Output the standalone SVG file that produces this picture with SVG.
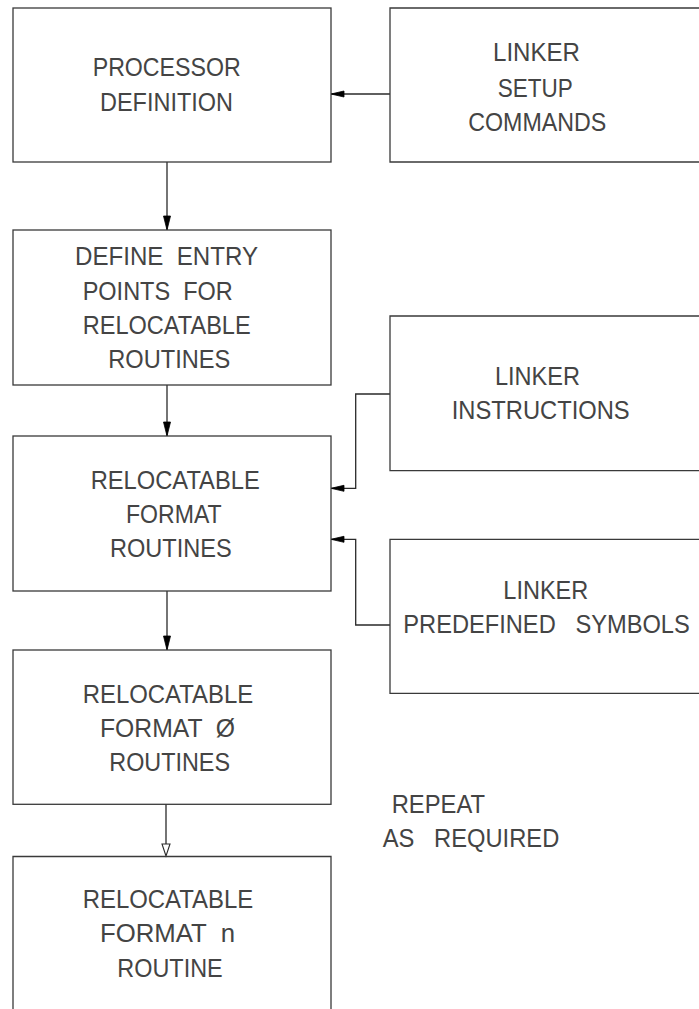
<svg xmlns="http://www.w3.org/2000/svg" width="699" height="1009" viewBox="0 0 699 1009">
<defs>
<style>
.box{fill:none;stroke:#3a3a3a;stroke-width:1.3}
.ln{fill:none;stroke:#2a2a2a;stroke-width:1.3}
.ah{fill:#000;stroke:#000;stroke-width:0.8}
.ho{fill:#fff;stroke:#2a2a2a;stroke-width:1.1}
text{font-family:"Liberation Sans",Arial,sans-serif;font-size:25px;fill:#444;white-space:pre}
</style>
</defs>
<rect width="699" height="1009" fill="#fff"/>
<g id="connectors">
<path class="ln" d="M390,94 H331"/>
<path class="ah" d="M331,94 L344,91 L344,97 Z"/>
<path class="ln" d="M167,162 V230"/>
<path class="ah" d="M167,230 L163.5,216 L170.5,216 Z"/>
<path class="ln" d="M167,385 V436"/>
<path class="ah" d="M167,436 L163.5,422 L170.5,422 Z"/>
<path class="ln" d="M390,394 H355.7 V488.3 H331"/>
<path class="ah" d="M331,488.3 L344,485.3 L344,491.3 Z"/>
<path class="ln" d="M390,625 H355.7 V539.3 H331"/>
<path class="ah" d="M331,539.3 L344,536.3 L344,542.3 Z"/>
<path class="ln" d="M167,591 V650"/>
<path class="ah" d="M167,650 L163.5,636 L170.5,636 Z"/>
<path class="ln" d="M166,804 V844"/>
<path class="ho" d="M166,856 L162,844 L170,844 Z"/>
</g>
<g id="processor-definition">
<rect class="box" x="13" y="8" width="318" height="154"/>
<text x="92.7" y="76" textLength="148" lengthAdjust="spacingAndGlyphs">PROCESSOR</text>
<text x="100" y="111" textLength="133" lengthAdjust="spacingAndGlyphs">DEFINITION</text>
</g>
<g id="linker-setup-commands">
<path class="box" d="M710,8 H390 V162 H710"/>
<text x="493" y="61" textLength="87" lengthAdjust="spacingAndGlyphs">LINKER</text>
<text x="497.7" y="96.5" textLength="75" lengthAdjust="spacingAndGlyphs">SETUP</text>
<text x="468.3" y="131" textLength="138" lengthAdjust="spacingAndGlyphs">COMMANDS</text>
</g>
<g id="define-entry-points">
<rect class="box" x="13" y="230" width="318" height="155"/>
<text x="75" y="265" textLength="183" lengthAdjust="spacingAndGlyphs">DEFINE  ENTRY</text>
<text x="82.7" y="300" textLength="150" lengthAdjust="spacingAndGlyphs">POINTS  FOR</text>
<text x="82.7" y="334" textLength="168" lengthAdjust="spacingAndGlyphs">RELOCATABLE</text>
<text x="108.3" y="367.5" textLength="122" lengthAdjust="spacingAndGlyphs">ROUTINES</text>
</g>
<g id="linker-instructions">
<path class="box" d="M710,316 H390 V470.7 H710"/>
<text x="495" y="385" textLength="85" lengthAdjust="spacingAndGlyphs">LINKER</text>
<text x="451.7" y="419" textLength="178" lengthAdjust="spacingAndGlyphs">INSTRUCTIONS</text>
</g>
<g id="relocatable-format-routines">
<rect class="box" x="13" y="436" width="318" height="155"/>
<text x="90.7" y="489" textLength="169" lengthAdjust="spacingAndGlyphs">RELOCATABLE</text>
<text x="126" y="523" textLength="95.7" lengthAdjust="spacingAndGlyphs">FORMAT</text>
<text x="110" y="556.7" textLength="121.7" lengthAdjust="spacingAndGlyphs">ROUTINES</text>
</g>
<g id="linker-predefined-symbols">
<path class="box" d="M710,539.3 H390 V693.3 H710"/>
<text x="503.3" y="599.3" textLength="85" lengthAdjust="spacingAndGlyphs">LINKER</text>
<text x="403.3" y="633.3" textLength="286.5" lengthAdjust="spacingAndGlyphs">PREDEFINED   SYMBOLS</text>
</g>
<g id="relocatable-format-0">
<rect class="box" x="13" y="650" width="318" height="154.3"/>
<text x="82.7" y="702.7" textLength="170.6" lengthAdjust="spacingAndGlyphs">RELOCATABLE</text>
<text x="100" y="736.7" textLength="135" lengthAdjust="spacingAndGlyphs">FORMAT  Ø</text>
<text x="109.3" y="771" textLength="120.7" lengthAdjust="spacingAndGlyphs">ROUTINES</text>
</g>
<g id="repeat-note">
<text x="391.7" y="813.3" textLength="93.3" lengthAdjust="spacingAndGlyphs">REPEAT</text>
<text x="382.7" y="846.7" textLength="176.6" lengthAdjust="spacingAndGlyphs">AS   REQUIRED</text>
</g>
<g id="relocatable-format-n">
<path class="box" d="M13,1020 V856.5 H331 V1020"/>
<text x="82.7" y="908.3" textLength="170.6" lengthAdjust="spacingAndGlyphs">RELOCATABLE</text>
<text x="100" y="942.3" textLength="135" lengthAdjust="spacingAndGlyphs">FORMAT  n</text>
<text x="117.3" y="976.7" textLength="105.4" lengthAdjust="spacingAndGlyphs">ROUTINE</text>
</g>
</svg>
